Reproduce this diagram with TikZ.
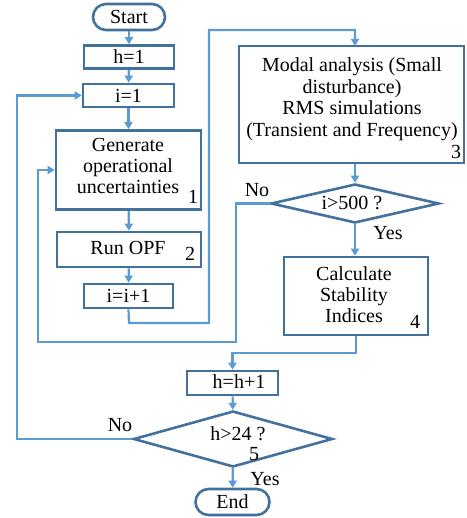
\documentclass[tikz,border=0pt]{standalone}
\usepackage{fontspec}
\setmainfont{Liberation Serif}
\newfontfamily\tnr{Liberation Serif}
\usetikzlibrary{shapes.geometric,arrows.meta}
\definecolor{boxblue}{HTML}{41719C}
\definecolor{lineblue}{HTML}{5B9BD5}
\tikzset{
  box/.style={draw=boxblue, line width=2.6pt, rectangle, inner sep=0pt, align=center,
    font=\tnr\fontsize{20}{21}\selectfont},
  term/.style={box, rounded corners=13pt},
  dia/.style={draw=boxblue, line width=2.6pt, diamond, inner sep=0pt},
  txt/.style={inner sep=0pt, align=center, font=\tnr\fontsize{20}{21}\selectfont},
  conn/.style={draw=lineblue, line width=2.2pt},
  arr/.style={conn, -{Triangle[length=7pt,width=8pt]}}
}
\begin{document}
\begin{tikzpicture}[x=1pt,y=-1pt]
\useasboundingbox (0,0) rectangle (466,518);
% nodes
\node[term, minimum width=72pt, minimum height=26pt] (start) at (129,17) {Start};
\node[box, minimum width=90pt, minimum height=23pt] (h1) at (129,57) {h=1};
\node[box, minimum width=91pt, minimum height=23pt] (i1) at (128.5,95.5) {i=1};
\node[box, minimum width=145pt, minimum height=79pt] (gen) at (128.5,170) {};
\node[txt] (gentxt) at (128,166) {Generate\\operational\\uncertainties};
\node[txt] (n1) at (193,197) {1};
\node[box, minimum width=144pt, minimum height=35pt] (opf) at (129,249.5) {};
\node[txt] (opftxt) at (128,248) {Run OPF};
\node[txt] (n2) at (190,254) {2};
\node[box, minimum width=89pt, minimum height=24pt] (inc) at (128.5,296) {i=i+1};
\node[box, minimum width=225pt, minimum height=117pt] (modal) at (351.5,104.5) {};
\node[txt, font=\tnr\fontsize{20}{21.5}\selectfont] (modaltxt) at (352,99) {Modal analysis (Small\\disturbance)\\RMS simulations\\(Transient and Frequency)};
\node[txt] (n3) at (456,152) {3};
\node[dia, minimum width=168pt, minimum height=39pt] (d1) at (355,203.5) {};
\node[txt] (d1txt) at (352,203) {i>500 ?};
\node[box, minimum width=144pt, minimum height=78pt] (calc) at (356,296) {};
\node[txt] (calctxt) at (354,294.5) {Calculate\\Stability\\Indices};
\node[txt] (n4) at (415,322) {4};
\node[box, minimum width=91pt, minimum height=24pt] (hh) at (232.5,383) {};
\node[txt] (hhtxt) at (239,382) {h=h+1};
\node[dia, minimum width=199pt, minimum height=56pt] (d2) at (233,439) {};
\node[txt] (d2txt) at (238,434) {h>24 ?};
\node[txt] (n5) at (254,454) {5};
\node[term, minimum width=74pt, minimum height=26pt] (end) at (232.5,502) {End};
% labels
\node[txt] (no1) at (257,190) {No};
\node[txt] (yes1) at (388,233) {Yes};
\node[txt] (no2) at (120,425) {No};
\node[txt] (yes2) at (265,479) {Yes};
% coordinates
\coordinate (m3top) at (355,46);
\coordinate (l1a) at (129,323);
\coordinate (l1b) at (209,323);
\coordinate (l1c) at (209,30);
\coordinate (l1d) at (355,30);
\coordinate (l2a) at (236,203.5);
\coordinate (l2b) at (236,342);
\coordinate (l2c) at (38,342);
\coordinate (l2d) at (38,170);
\coordinate (c1) at (356,353);
\coordinate (c2) at (232.5,353);
\coordinate (l3a) at (17,439);
\coordinate (l3b) at (17,95.5);
% connectors
\draw[arr] (start) -- (h1);
\draw[arr] (h1) -- (i1);
\draw[arr] (i1) -- (gen);
\draw[arr] (gen) -- (opf);
\draw[arr] (opf) -- (inc);
\draw[arr] (inc.south) -- (l1a) -- (l1b) -- (l1c) -- (l1d) -- (m3top);
\draw[arr] (modal.south -| d1.north) -- (d1.north);
\draw[arr] (d1.west) -- (l2a) -- (l2b) -- (l2c) -- (l2d) -- (gen.west);
\draw[arr] (d1.south) -- (d1.south |- calc.north);
\draw[arr] (calc.south) -- (c1) -- (c2) -- (hh.north);
\draw[arr] (hh) -- (d2);
\draw[arr] (d2.west) -- (l3a) -- (l3b) -- (i1.west);
\draw[arr] (d2) -- (end);
\end{tikzpicture}
\end{document}
